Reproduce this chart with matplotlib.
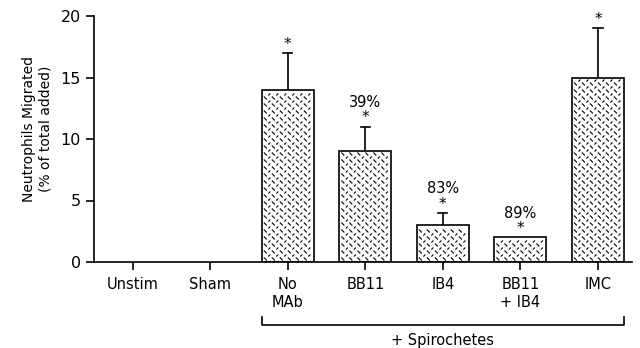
import matplotlib
matplotlib.use("Agg")
import matplotlib.pyplot as plt
import numpy as np
from matplotlib.collections import LineCollection

categories = ["Unstim", "Sham", "No\nMAb", "BB11", "IB4", "BB11\n+ IB4", "IMC"]
values = [0, 0, 14, 9, 3, 2, 15]
errors = [0, 0, 3, 2, 1, 0, 4]
stars = [False, False, True, True, True, True, True]
pct_labels = ["", "", "", "39%", "83%", "89%", ""]

plt.rcParams['font.family'] = ['DejaVu Sans']

fig = plt.figure(figsize=(6.4, 3.48), dpi=100)
ax = fig.add_axes([94/640, 86/348, 538/640, 246/348])

x = np.arange(len(categories))
width = 0.67
lws = [1.2 if v > 0 else 0 for v in values]
bars = ax.bar(x, values, width=width, color="white", edgecolor="black", linewidth=lws, zorder=2)

ax.set_xlim(-0.5, 6.44)
ax.set_ylim(0, 20)

# dashed hatch-like pattern clipped to bars
fig.canvas.draw()
trans = ax.transData
inv = trans.inverted()
for b, v in zip(bars, values):
    if v <= 0:
        continue
    (x0, y0) = trans.transform((b.get_x(), 0))
    (x1, y1) = trans.transform((b.get_x() + b.get_width(), v))
    segs = []
    sx, sy = 8.0, 7.0
    d = 1.5
    d2 = 1.0
    yy = y0 + 3
    while yy < y1 - 2.5:
        xx = x0 + 3.5
        while xx < x1 - 2.5:
            segs.append([(xx - d, yy + d), (xx + d, yy - d)])
            if xx + 4 + d2 < x1 - 1.5 and yy + 3.5 + d2 < y1 - 1.5:
                segs.append([(xx + 4 - d2, yy + 3.5 - d2), (xx + 4 + d2, yy + 3.5 + d2)])
            xx += sx
        yy += sy
    segs_data = [[tuple(inv.transform(p)) for p in s] for s in segs]
    lc = LineCollection(segs_data, colors="black", linewidths=0.8, zorder=2.5)
    ax.add_collection(lc, autolim=False)
    lc.set_clip_path(b)

for xi, v, e, s, p in zip(x, values, errors, stars, pct_labels):
    top = v
    if e > 0:
        ax.plot([xi, xi], [v, v + e], color="black", lw=1.2, zorder=1)
        ax.plot([xi - 0.06, xi + 0.06], [v + e, v + e], color="black", lw=1.2)
        top = v + e
    if s:
        ax.text(xi, top + 0.1, "*", ha="center", va="bottom", fontsize=11)
    if p:
        ax.text(xi, top + 1.35, p, ha="center", va="bottom", fontsize=10.5)

ax.spines["top"].set_visible(False)
ax.spines["right"].set_visible(False)
ax.spines["left"].set_linewidth(1.2)
ax.spines["bottom"].set_linewidth(1.2)
ax.set_yticks([0, 5, 10, 15, 20])
ax.tick_params(axis="y", labelsize=11.5, length=6, width=1.2, direction="out")
ax.set_xticks(x)
ax.set_xticklabels(categories, fontsize=10.5, linespacing=1.25)
ax.tick_params(axis="x", length=6, width=1.2, direction="out", pad=5)
ax.set_ylabel("Neutrophils Migrated\n(% of total added)", fontsize=10, linespacing=1.15,
              labelpad=6, y=0.54)

# bracket for + Spirochetes
left = bars[2].get_x()
right = bars[6].get_x() + bars[6].get_width()
tf = ax.get_xaxis_transform()
yb = -0.255
ax.plot([left, left, right, right], [yb + 0.03, yb, yb, yb + 0.03], color="black", lw=1.2,
        transform=tf, clip_on=False)
ax.text((left + right) / 2, yb - 0.035, "+ Spirochetes", ha="center", va="top", fontsize=10.5,
        transform=tf)

fig.savefig("out.png", dpi=100)
